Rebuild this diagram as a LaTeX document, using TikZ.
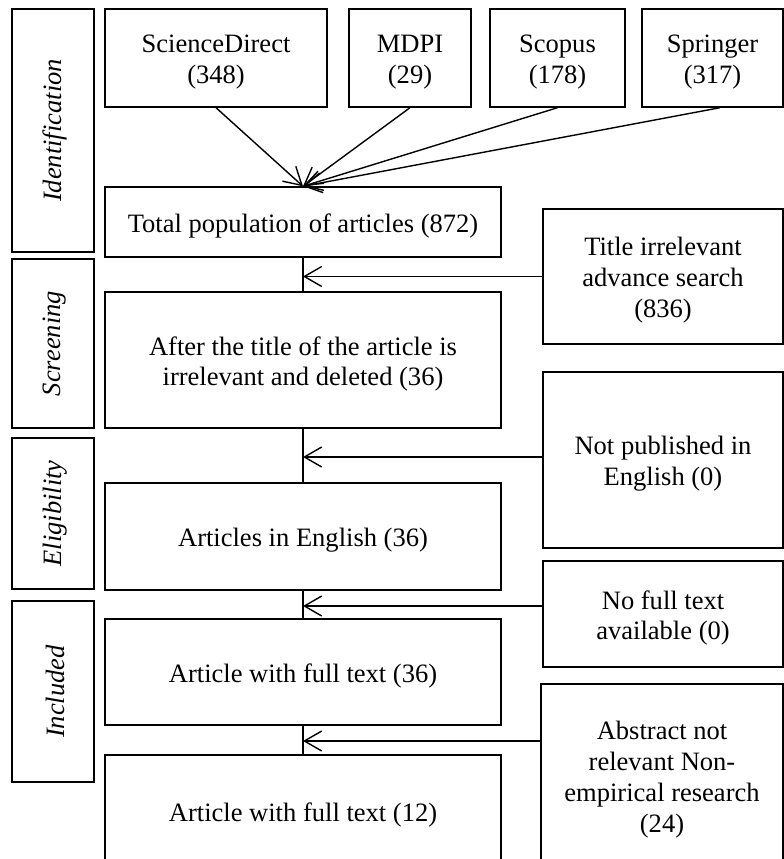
\documentclass[tikz,border=0pt]{standalone}
\usepackage{fontspec}
\setmainfont{Liberation Serif}
\usetikzlibrary{arrows.meta}
\begin{document}
\begin{tikzpicture}[x=0.75pt,y=-0.75pt,
  every node/.style={font=\fontsize{19.9}{23.2}\selectfont},
  sz/.style 2 args={minimum width=#1*0.75pt, minimum height=#2*0.75pt},
  box/.style={draw, line width=1.05pt, inner sep=0pt, anchor=center},
  txt/.style={align=center, inner sep=0pt, yshift=-3pt},
  stxt/.style={inner sep=0pt, xshift=1.5pt, rotate=90, font=\fontsize{19.9}{23.2}\selectfont\itshape},
  conn/.style={line width=1.05pt},
  arr/.style={conn, -{Straight Barb[length=13pt,width=15pt,line width=1.05pt]}}]
\useasboundingbox (0,0) rectangle (784,859);
\clip (0,0) rectangle (784,859);
% sources
\node[box, sz={222}{98}, label={[txt]center:{ScienceDirect\\(348)}}] (sd) at (216,58) {};
\node[box, sz={122}{98}, label={[txt]center:{MDPI\\(29)}}] (mdpi) at (410,58) {};
\node[box, sz={135}{98}, label={[txt]center:{Scopus\\(178)}}] (scopus) at (557.5,58) {};
\node[box, sz={141}{98}, label={[txt]center:{Springer\\(317)}}] (springer) at (712.5,58) {};
% main column
\node[box, sz={396}{70}, label={[txt]center:{Total population of articles (872)}}] (total) at (303,222) {};
\node[box, sz={396}{136}, label={[txt]center:{After the title of the article is\\irrelevant and deleted (36)}}] (after) at (303,360) {};
\node[box, sz={396}{107}, label={[txt]center:{Articles in English (36)}}] (english) at (303,536.5) {};
\node[box, sz={396}{106}, label={[txt]center:{Article with full text (36)}}] (full36) at (303,672) {};
\node[box, sz={396}{112}, label={[txt]center:{Article with full text (12)}}] (full12) at (303,811) {};
% exclusions
\node[box, sz={240}{135}, label={[txt]center:{Title irrelevant\\advance search\\(836)}}] (title) at (663,276.5) {};
\node[box, sz={240}{176}, label={[txt]center:{Not published in\\English (0)}}] (notpub) at (663,460) {};
\node[box, sz={240}{106}, label={[txt]center:{No full text\\available (0)}}] (nofull) at (663,614) {};
\node[box, sz={242}{184}, label={[txt]center:{Abstract not\\relevant Non-\\empirical research\\(24)}}] (abstract) at (662,776) {};
% stages
\node[box, sz={82}{243}, label={[stxt]center:Identification}] (ident) at (53,130.5) {};
\node[box, sz={82}{169}, label={[stxt]center:Screening}] (screen) at (53,343.5) {};
\node[box, sz={82}{151}, label={[stxt]center:Eligibility}] (elig) at (53,513.5) {};
\node[box, sz={82}{181}, label={[stxt]center:Included}] (incl) at (53,691.5) {};
% connectors
\draw[arr] (sd.south) -- (total.north);
\draw[arr] (mdpi.south) -- (total.north);
\draw[arr] (scopus.south) -- (total.north);
\draw[arr] ([xshift=5.6pt]springer.south) -- (total.north);
\coordinate (a1) at (303,276.5);
\coordinate (a2) at (303,457);
\coordinate (a3) at (303,606);
\coordinate (a4) at (303,741);
\draw[conn] (total.south) -- (after.north);
\draw[arr] (title.west |- a1) -- (a1);
\draw[conn] (after.south) -- (english.north);
\draw[arr] (notpub.west |- a2) -- (a2);
\draw[conn] (english.south) -- (full36.north);
\draw[arr] (nofull.west |- a3) -- (a3);
\draw[conn] (full36.south) -- (full12.north);
\draw[arr] (abstract.west |- a4) -- (a4);
\end{tikzpicture}
\end{document}
